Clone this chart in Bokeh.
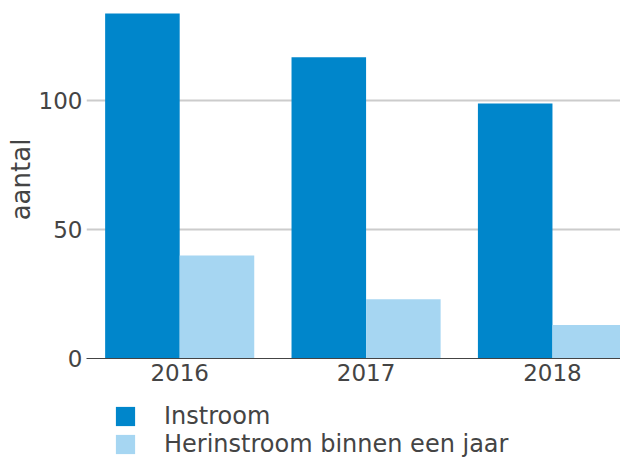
from bokeh.plotting import figure
from bokeh.layouts import column
from bokeh.models import Range1d, FixedTicker, Legend, LegendItem, ColumnDataSource
from bokeh.transform import dodge
from bokeh.embed import file_html
from bokeh.resources import INLINE

categories = ["2016", "2017", "2018"]
instroom = [134, 117, 99]
herinstroom = [40, 23, 13]
y_ticks = [0, 50, 100]
series_names = ["Instroom", "Herinstroom binnen een jaar"]
colors = ["#0086CB", "#A6D6F2"]

FONT = "DejaVu Sans"
TEXT = "#444444"

src = ColumnDataSource(dict(x=list(range(len(categories))), a=instroom, b=herinstroom))

# ---- main chart ----
p = figure(frame_width=534, frame_height=358, output_backend="svg", toolbar_location=None,
           x_range=Range1d(-0.5, 2.365), y_range=Range1d(0, 139.0),
           min_border_left=86, min_border_right=0, min_border_top=0, min_border_bottom=32)

r1 = p.vbar(x=dodge("x", -0.2), top="a", width=0.4, source=src, color=colors[0], line_color=None)
r2 = p.vbar(x=dodge("x", 0.2), top="b", width=0.4, source=src, color=colors[1], line_color=None)

p.outline_line_color = None
p.background_fill_color = "white"
p.xgrid.grid_line_color = None
p.ygrid.ticker = FixedTicker(ticks=y_ticks[1:])
p.ygrid.grid_line_color = "#cccccc"
p.ygrid.grid_line_width = 2

xa = p.xaxis[0]
xa.ticker = FixedTicker(ticks=list(range(len(categories))))
xa.major_label_overrides = {i: c for i, c in enumerate(categories)}
xa.axis_line_color = "#444444"
xa.axis_line_width = 1.2
xa.major_tick_line_color = None
xa.minor_tick_line_color = None
xa.major_tick_out = 0
xa.major_label_standoff = 5
xa.major_label_text_font = FONT
xa.major_label_text_font_size = "23px"
xa.major_label_text_color = TEXT

ya = p.yaxis[0]
ya.ticker = FixedTicker(ticks=y_ticks)
ya.axis_line_color = None
ya.major_tick_line_color = None
ya.minor_tick_line_color = None
ya.major_tick_out = 0
ya.major_label_standoff = 4
ya.major_label_text_font = FONT
ya.major_label_text_font_size = "23px"
ya.major_label_text_color = TEXT
ya.axis_label = "aantal"
ya.axis_label_standoff = 0
ya.axis_label_text_font = FONT
ya.axis_label_text_font_size = "26px"
ya.axis_label_text_font_style = "normal"
ya.axis_label_text_color = TEXT

# ---- legend strip below the chart ----
lg = figure(width=620, height=68, output_backend="svg", toolbar_location=None,
            x_range=Range1d(-0.5, 2.365), y_range=Range1d(1000, 1001),
            x_axis_type=None, y_axis_type=None,
            min_border_left=0, min_border_right=0, min_border_top=0, min_border_bottom=0)
lg.outline_line_color = None
lg.grid.visible = False
l1 = lg.vbar(x=dodge("x", -0.2), top="a", width=0.4, source=src, color=colors[0], line_color=None)
l2 = lg.vbar(x=dodge("x", 0.2), top="b", width=0.4, source=src, color=colors[1], line_color=None)
l1.visible = False
l2.visible = False

legend = Legend(items=[LegendItem(label=series_names[0], renderers=[l1]),
                       LegendItem(label=series_names[1], renderers=[l2])],
                location=(27, 0), orientation="vertical",
                glyph_width=24, glyph_height=24, label_height=24,
                spacing=0, padding=0, margin=0, label_standoff=27,
                border_line_color=None, background_fill_alpha=0,
                inactive_fill_alpha=0,
                label_text_font=FONT, label_text_font_size="24px", label_text_color=TEXT)
lg.add_layout(legend, "center")

layout = column(p, lg, spacing=0)
open("out.html", "w").write(file_html(layout, INLINE))
